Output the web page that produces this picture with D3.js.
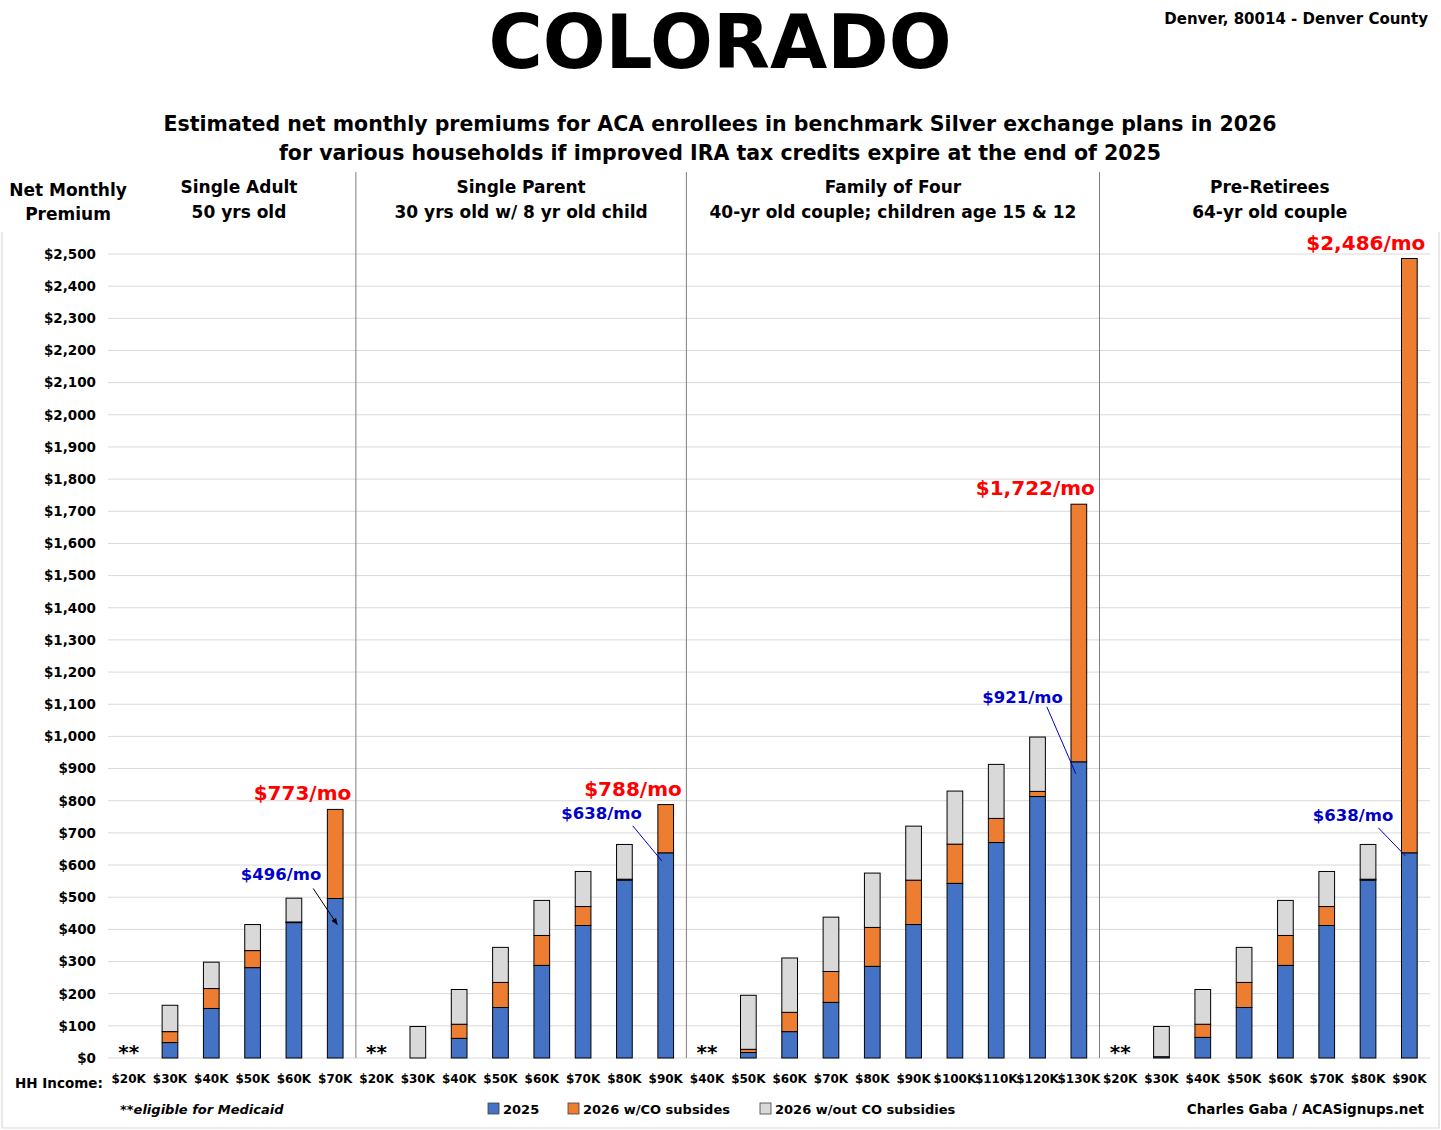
<!DOCTYPE html>
<html lang="en-us">
<head>
  <meta charset="UTF-8">
  <script src="https://d3js.org/d3.v7.min.js"></script>
  <style>
    body { margin: 0; background: #fff; }
    svg text { font-family: "DejaVu Sans", Verdana, sans-serif; font-weight: bold; }
  </style>
</head>
<body>
<div id="chart"></div>
<script>
  // households (panels)
  const panelTitles = ["Single Adult", "Single Parent", "Family of Four", "Pre-Retirees"];
  const panelSubtitles = ["50 yrs old", "30 yrs old w/ 8 yr old child",
    "40-yr old couple; children age 15 & 12", "64-yr old couple"];

  // income brackets per panel
  const incomes = [
    ["$20K", "$30K", "$40K", "$50K", "$60K", "$70K"],
    ["$20K", "$30K", "$40K", "$50K", "$60K", "$70K", "$80K", "$90K"],
    ["$40K", "$50K", "$60K", "$70K", "$80K", "$90K", "$100K", "$110K", "$120K", "$130K"],
    ["$20K", "$30K", "$40K", "$50K", "$60K", "$70K", "$80K", "$90K"]
  ];

  // net monthly premium levels (null = eligible for Medicaid)
  const prem2025 = [
    [null, 48, 154, 281, 421, 496],
    [null, 0, 61, 157, 288, 412, 553, 638],
    [null, 17, 82, 173, 285, 415, 543, 670, 813, 921],
    [null, 4, 64, 157, 288, 412, 553, 638]
  ];
  const prem2026withCO = [
    [null, 82, 216, 334, 423, 773],
    [null, 0, 105, 235, 381, 471, 556, 788],
    [null, 27, 142, 269, 406, 553, 665, 745, 829, 1722],
    [null, 4, 105, 235, 381, 471, 556, 2486]
  ];
  const prem2026withoutCO = [
    [null, 164, 298, 415, 497, 773],
    [null, 98, 213, 344, 490, 580, 664, 788],
    [null, 195, 311, 438, 575, 721, 830, 913, 998, 1722],
    [null, 98, 213, 344, 490, 580, 664, 2486]
  ];

  const yTicks = d3.range(0, 2501, 100);
  const seriesNames = ["2025", "2026 w/CO subsides", "2026 w/out CO subsidies"];
  const seriesColors = ["#4472C4", "#ED7D31", "#D9D9D9"];

  // callouts: [panel, bracket index, text]
  const redLabels = [[0, 5, "$773/mo"], [1, 7, "$788/mo"], [2, 9, "$1,722/mo"], [3, 7, "$2,486/mo"]];
  const blueLabels = [[0, 5, "$496/mo"], [1, 7, "$638/mo"], [2, 9, "$921/mo"], [3, 7, "$638/mo"]];

  const W = 1441, H = 1130;
  const plotLeft = 108, plotRight = 1430, plotTop = 254, plotBottom = 1058;

  const svg = d3.select("#chart").append("svg")
    .attr("width", W).attr("height", H);

  // flatten categories
  const cats = [];
  incomes.forEach((list, p) => list.forEach((inc, i) => cats.push({
    key: p + "-" + i, p, i, inc,
    b: prem2025[p][i], o: prem2026withCO[p][i], g: prem2026withoutCO[p][i]
  })));

  const x = d3.scaleBand()
    .domain(cats.map(d => d.key))
    .range([plotLeft, plotRight])
    .paddingInner(0.62)
    .paddingOuter(0.31);

  const y = d3.scaleLinear().domain([0, 2500]).range([plotBottom, plotTop]);

  // outer frame (left, right, bottom)
  svg.append("path")
    .attr("d", `M2,232 V1128 H1439 V232`)
    .attr("fill", "none").attr("stroke", "#d9d9d9").attr("stroke-width", 1.2);

  // gridlines
  svg.append("g").selectAll("line").data(yTicks).join("line")
    .attr("x1", plotLeft).attr("x2", plotRight)
    .attr("y1", d => y(d)).attr("y2", d => y(d))
    .attr("stroke", "#d9d9d9").attr("stroke-width", 1);

  // y axis labels
  svg.append("g")
    .attr("transform", `translate(96,0)`)
    .call(d3.axisLeft(y).tickValues(yTicks).tickSize(0).tickPadding(0)
      .tickFormat(d => "$" + d3.format(",")(d)))
    .call(g => g.select(".domain").remove())
    .selectAll("text")
    .style("font-family", '"DejaVu Sans", sans-serif')
    .style("font-weight", "bold")
    .style("font-size", "13.5px")
    .attr("fill", "#000");

  // x axis labels
  svg.append("g")
    .attr("transform", `translate(0,${plotBottom + 16})`)
    .call(d3.axisBottom(x).tickSize(0).tickPadding(0).tickFormat(k => cats.find(c => c.key === k).inc))
    .call(g => g.select(".domain").remove())
    .selectAll("text")
    .style("font-family", '"DejaVu Sans", sans-serif')
    .style("font-weight", "bold")
    .style("font-size", "12px")
    .attr("fill", "#000");

  svg.append("text").attr("x", 15).attr("y", plotBottom + 30)
    .style("font-size", "13.5px").text("HH Income:");

  // panel bounds and dividers
  const bounds = incomes.map((list, p) => [
    x(p + "-0") - x.step() * x.paddingOuter(),
    x(p + "-" + (list.length - 1)) + x.bandwidth() + x.step() * x.paddingOuter()
  ]);
  bounds.slice(1).forEach(b => {
    svg.append("line")
      .attr("x1", b[0]).attr("x2", b[0])
      .attr("y1", 172).attr("y2", plotBottom)
      .attr("stroke", "#7f7f7f").attr("stroke-width", 1);
  });

  // panel headers
  const headerShift = [0, 0, 0, 5];
  bounds.forEach((b, p) => {
    let cx = (b[0] + b[1]) / 2 + headerShift[p];
    if (p === 0) cx = 239;
    svg.append("text").attr("x", cx).attr("y", 193).attr("text-anchor", "middle")
      .style("font-size", "17px").text(panelTitles[p]);
    svg.append("text").attr("x", cx).attr("y", 218).attr("text-anchor", "middle")
      .style("font-size", "17px").text(panelSubtitles[p]);
  });

  // bars: blue base, orange to 2026 w/CO, gray to 2026 w/out CO
  const bars = svg.append("g");
  cats.filter(d => d.g !== null).forEach(d => {
    const segs = [[0, d.b, 0], [d.b, d.o, 1], [d.o, d.g, 2]];
    segs.forEach(([lo, hi, s]) => {
      if (hi - lo <= 0) return;
      bars.append("rect")
        .attr("x", x(d.key))
        .attr("width", x.bandwidth())
        .attr("y", y(hi))
        .attr("height", y(lo) - y(hi))
        .attr("fill", seriesColors[s])
        .attr("stroke", "#000")
        .attr("stroke-width", 1);
    });
  });

  // Medicaid markers
  cats.filter(d => d.g === null).forEach(d => {
    svg.append("text")
      .attr("x", x(d.key) + x.bandwidth() / 2)
      .attr("y", plotBottom + 1)
      .attr("text-anchor", "middle")
      .style("font-size", "20px").text("**");
  });

  // red callouts above the tallest bars
  redLabels.forEach(([p, i, t]) => {
    const cx = x(p + "-" + i) + x.bandwidth() / 2;
    svg.append("text")
      .attr("x", cx + 16)
      .attr("y", y(prem2026withoutCO[p][i]) - 9)
      .attr("text-anchor", "end")
      .attr("fill", "#FF0000")
      .style("font-size", "20px")
      .text(t);
  });

  // blue callouts with leader lines to the 2025 level
  svg.append("defs").append("marker")
    .attr("id", "arrow").attr("viewBox", "0 0 10 10")
    .attr("refX", 9).attr("refY", 5)
    .attr("markerWidth", 7).attr("markerHeight", 7)
    .attr("orient", "auto")
    .append("path").attr("d", "M0,1 L10,5 L0,9 Z").attr("fill", "#000");

  // layout per callout: text end dx, baseline dy, line start (dx,dy) from text end, line end dx,dy from bar
  const blueLayout = [
    { tdx: -14, tdy: -18, ldx: -8, ldy: 8, edx: 2, edy: 26 },
    { tdx: -24, tdy: -34, ldx: -9, ldy: 7, edx: -4, edy: 8 },
    { tdx: -16, tdy: -59, ldx: -16, ldy: 4, edx: -3, edy: 12 },
    { tdx: -16, tdy: -32, ldx: -15, ldy: 7, edx: -4, edy: 3 }
  ];
  blueLabels.forEach(([p, i, t], n) => {
    const L = blueLayout[n];
    const cx = x(p + "-" + i) + x.bandwidth() / 2;
    const yv = y(prem2025[p][i]);
    const tx = cx + L.tdx, ty = yv + L.tdy;
    svg.append("text")
      .attr("x", tx).attr("y", ty)
      .attr("text-anchor", "end")
      .attr("fill", "#0000CC")
      .style("font-size", "16.5px")
      .text(t);
    const line = svg.append("line")
      .attr("x1", tx + L.ldx).attr("y1", ty + L.ldy)
      .attr("x2", cx + L.edx).attr("y2", yv + L.edy)
      .attr("stroke-width", 1);
    if (n === 0) line.attr("stroke", "#000").attr("marker-end", "url(#arrow)");
    else line.attr("stroke", "#0000CC");
  });

  // titles
  svg.append("text").attr("x", 720).attr("y", 68).attr("text-anchor", "middle")
    .style("font-size", "74px").style("font-weight", "900").text("COLORADO");
  svg.append("text").attr("x", 1428).attr("y", 24).attr("text-anchor", "end")
    .style("font-size", "15px").text("Denver, 80014 - Denver County");
  svg.append("text").attr("x", 720).attr("y", 131).attr("text-anchor", "middle")
    .style("font-size", "20.5px")
    .text("Estimated net monthly premiums for ACA enrollees in benchmark Silver exchange plans in 2026");
  svg.append("text").attr("x", 720).attr("y", 160).attr("text-anchor", "middle")
    .style("font-size", "20.5px")
    .text("for various households if improved IRA tax credits expire at the end of 2025");
  svg.append("text").attr("x", 68).attr("y", 196).attr("text-anchor", "middle")
    .style("font-size", "17px").text("Net Monthly");
  svg.append("text").attr("x", 68).attr("y", 220).attr("text-anchor", "middle")
    .style("font-size", "17px").text("Premium");

  // footer
  svg.append("text").attr("x", 120).attr("y", 1114)
    .style("font-size", "13px").style("font-style", "italic").text("**eligible for Medicaid");
  const legX = [488, 568, 760];
  seriesNames.forEach((s, i) => {
    svg.append("rect").attr("x", legX[i]).attr("y", 1103).attr("width", 11).attr("height", 11)
      .attr("fill", seriesColors[i]).attr("stroke", "#404040").attr("stroke-width", 0.8);
    svg.append("text").attr("x", legX[i] + 15).attr("y", 1114)
      .style("font-size", "13px").text(s);
  });
  svg.append("text").attr("x", 1424).attr("y", 1114).attr("text-anchor", "end")
    .style("font-size", "13.5px").text("Charles Gaba / ACASignups.net");
</script>
</body>
</html>
